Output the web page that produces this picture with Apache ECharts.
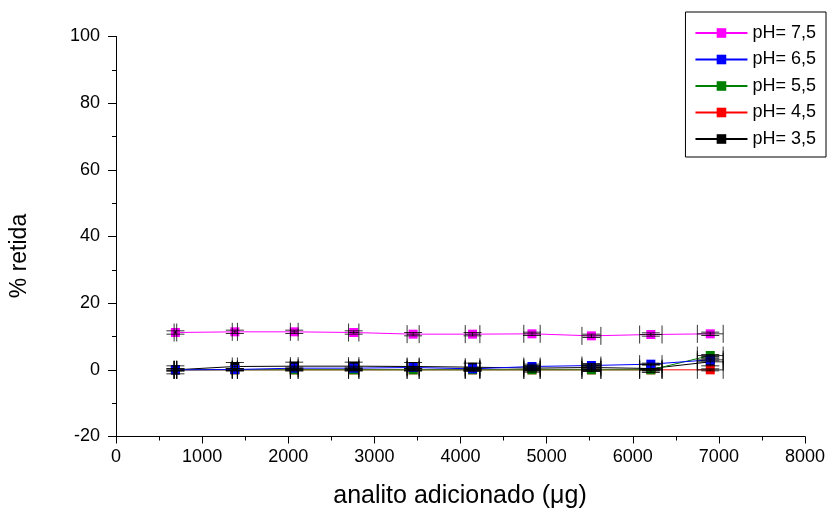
<!DOCTYPE html>
<html>
<head>
<meta charset="utf-8">
<script src="https://cdn.jsdelivr.net/npm/echarts@6/dist/echarts.min.js"></script>
<style>
html,body{margin:0;padding:0;background:#fff;}
#main{width:829px;height:508px;}
</style>
</head>
<body>
<div id="main"></div>
<script>
var xValues = [690, 1380, 2070, 2760, 3450, 4140, 4830, 5520, 6210, 6900];
var ph75 = [11.2, 11.4, 11.4, 11.2, 10.7, 10.7, 10.8, 10.2, 10.6, 10.8];
var ph65 = [0, 0.1, 0.5, 0.5, 0.7, 0.3, 1.0, 1.3, 1.7, 3.0];
var ph55 = [0, 0, 0, 0, 0, 0, 0, 0, 0, 4.3];
var ph45 = [0, 0, 0, 0, 0, 0, 0, 0, 0, 0];
var ph35 = [0, 1.0, 1.1, 1.1, 1.0, 0.8, 0.5, 0.7, 0.4, 2.4];
var xErr = [15, 30, 45, 60, 70, 85, 95, 110, 130, 150];
var yErr75 = [0.5, 0.5, 0.5, 0.5, 0.5, 0.5, 0.5, 0.5, 0.5, 0.5];
var yErr65 = [0.3, 0.3, 0.3, 0.3, 0.3, 0.3, 0.3, 0.3, 0.3, 0.3];
var yErr55 = [0.3, 0.3, 0.3, 0.3, 0.3, 0.3, 0.3, 0.3, 0.3, 0.3];
var yErr45 = [0.3, 0.3, 0.3, 0.3, 0.3, 0.3, 0.3, 0.3, 0.3, 0.3];
var yErr35 = [1.2, 1.2, 1.2, 1.2, 1.2, 1.2, 1.2, 1.2, 1.2, 1.2];
var xTicks = [0, 1000, 2000, 3000, 4000, 5000, 6000, 7000, 8000];
var yTicks = [-20, 0, 20, 40, 60, 80, 100];

var seriesDefs = [
  {name: 'pH= 3,5', color: '#000000', y: ph35, e: yErr35},
  {name: 'pH= 4,5', color: '#FF0000', y: ph45, e: yErr45},
  {name: 'pH= 5,5', color: '#008000', y: ph55, e: yErr55},
  {name: 'pH= 6,5', color: '#0000FF', y: ph65, e: yErr65},
  {name: 'pH= 7,5', color: '#FF00FF', y: ph75, e: yErr75}
];
var legendOrder = ['pH= 7,5', 'pH= 6,5', 'pH= 5,5', 'pH= 4,5', 'pH= 3,5'];

var FONT = 'Liberation Sans, Arial, sans-serif';
var series = [];
seriesDefs.forEach(function (d, idx) {
  series.push({
    name: d.name,
    type: 'line',
    data: xValues.map(function (x, i) { return [x, d.y[i]]; }),
    symbol: 'rect',
    symbolSize: 9,
    lineStyle: {color: d.color, width: 1},
    itemStyle: {color: d.color},
    z: 2 + idx,
    animation: false
  });
});
seriesDefs.forEach(function (d, idx) {
  series.push({
    type: 'custom',
    name: d.name,
    data: xValues.map(function (x, i) { return [x, d.y[i], xErr[i], d.e[i]]; }),
    z: 20,
    silent: true,
    animation: false,
    renderItem: function (params, api) {
      var x = api.value(0), y = api.value(1), ex = api.value(2), ey = api.value(3);
      var c = api.coord([x, y]);
      var top = api.coord([x, y + ey]);
      var bot = api.coord([x, y - ey]);
      var lft = api.coord([x - ex, y]);
      var rgt = api.coord([x + ex, y]);
      var cap = 9;
      var st = {stroke: '#000', lineWidth: 1, opacity: 0.8};
      return {
        type: 'group',
        children: [
          {type: 'line', shape: {x1: c[0], y1: top[1], x2: c[0], y2: bot[1]}, style: st},
          {type: 'line', shape: {x1: c[0] - cap, y1: top[1], x2: c[0] + cap, y2: top[1]}, style: st},
          {type: 'line', shape: {x1: c[0] - cap, y1: bot[1], x2: c[0] + cap, y2: bot[1]}, style: st},
          {type: 'line', shape: {x1: lft[0], y1: c[1], x2: rgt[0], y2: c[1]}, style: st},
          {type: 'line', shape: {x1: lft[0], y1: c[1] - cap, x2: lft[0], y2: c[1] + cap}, style: st},
          {type: 'line', shape: {x1: rgt[0], y1: c[1] - cap, x2: rgt[0], y2: c[1] + cap}, style: st}
        ]
      };
    }
  });
});

var chart = echarts.init(document.getElementById('main'), null, {renderer: 'canvas'});
chart.setOption({
  backgroundColor: '#ffffff',
  animation: false,
  grid: {left: 116, top: 36.5, right: 24, bottom: 71.5, containLabel: false},
  legend: {
    data: legendOrder,
    orient: 'vertical',
    right: 3,
    top: 12,
    padding: [12, 10, 9, 9],
    itemGap: 8.5,
    itemWidth: 52,
    itemHeight: 12,
    itemStyle: {borderWidth: 0},
    borderColor: '#000',
    borderWidth: 1,
    borderRadius: 0,
    textStyle: {fontFamily: FONT, fontSize: 18, color: '#000'}
  },
  xAxis: {
    type: 'value',
    min: xTicks[0],
    max: xTicks[xTicks.length - 1],
    interval: 1000,
    axisLine: {show: true, onZero: false, lineStyle: {color: '#000', width: 1}},
    axisTick: {show: true, inside: false, length: 7, lineStyle: {color: '#000', width: 1}},
    minorTick: {show: true, splitNumber: 2, length: 4, lineStyle: {color: '#000', width: 1}},
    splitLine: {show: false},
    axisLabel: {margin: 12, fontFamily: FONT, fontSize: 18, color: '#000', formatter: function (v) { return String(v); }}
  },
  yAxis: {
    type: 'value',
    min: yTicks[0],
    max: yTicks[yTicks.length - 1],
    interval: 20,
    axisLine: {show: true, onZero: false, lineStyle: {color: '#000', width: 1}},
    axisTick: {show: true, inside: false, length: 8, lineStyle: {color: '#000', width: 1}},
    minorTick: {show: true, splitNumber: 2, length: 4, lineStyle: {color: '#000', width: 1}},
    splitLine: {show: false},
    axisLabel: {margin: 16, fontFamily: FONT, fontSize: 18, color: '#000', formatter: function (v) { return String(v); }}
  },
  graphic: [
    {type: 'text', x: 460, y: 496, style: {text: 'analito adicionado (μg)', fontFamily: FONT, fontSize: 25, fill: '#000', align: 'center', verticalAlign: 'middle'}},
    {type: 'text', x: 20, y: 256, rotation: Math.PI / 2, style: {text: '% retida', fontFamily: FONT, fontSize: 23, fill: '#000', align: 'center', verticalAlign: 'middle'}}
  ],
  series: series
});
</script>
</body>
</html>
